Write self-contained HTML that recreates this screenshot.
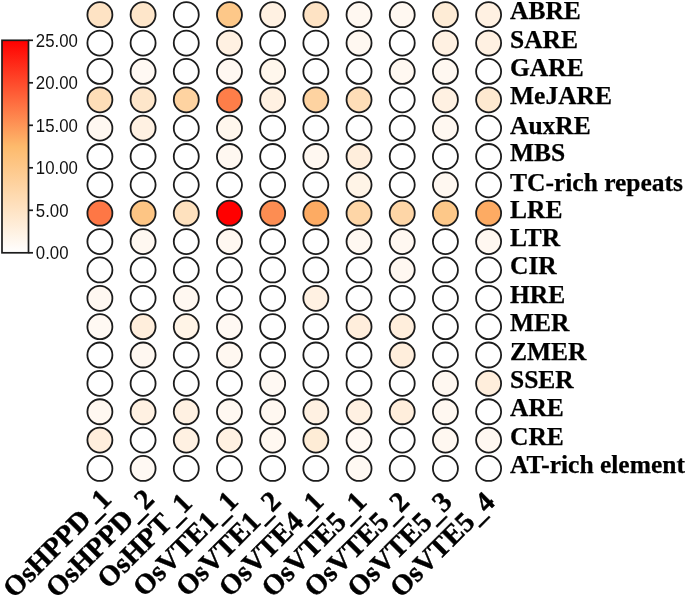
<!DOCTYPE html>
<html><head><meta charset="utf-8"><style>
html,body{margin:0;padding:0;background:#fff;}
body{width:685px;height:595px;overflow:hidden;}
svg{display:block;will-change:transform;}
</style></head><body>
<svg width="685" height="595" viewBox="0 0 685 595">
<defs><linearGradient id="g" x1="0" y1="0" x2="0" y2="1"><stop offset="0.0000" stop-color="#ff0000"/><stop offset="0.5000" stop-color="#fdba6c"/><stop offset="1.0000" stop-color="#ffffff"/></linearGradient></defs>
<rect x="2" y="40.3" width="26.5" height="212.5" fill="url(#g)" stroke="#1c1c1c" stroke-width="1.7"/>
<g stroke="#1c1c1c" stroke-width="1.7"><line x1="28.5" x2="33" y1="252.80" y2="252.80"/><line x1="28.5" x2="33" y1="210.30" y2="210.30"/><line x1="28.5" x2="33" y1="167.80" y2="167.80"/><line x1="28.5" x2="33" y1="125.30" y2="125.30"/><line x1="28.5" x2="33" y1="82.80" y2="82.80"/><line x1="28.5" x2="33" y1="40.30" y2="40.30"/></g>
<g font-family="'Liberation Sans', sans-serif" font-size="16.8" fill="#111" transform="scale(1,1.05)"><text x="35.8" y="246.86">0.00</text><text x="35.8" y="206.38">5.00</text><text x="35.8" y="165.90">10.00</text><text x="35.8" y="125.43">15.00</text><text x="35.8" y="84.95">20.00</text><text x="35.8" y="44.48">25.00</text></g>
<g stroke="#1c1c1c" stroke-width="1.8">
<circle cx="99.90" cy="14.70" r="12.5" fill="#fee3c4"/>
<circle cx="143.09" cy="14.70" r="12.5" fill="#fee6ca"/>
<circle cx="186.28" cy="14.70" r="12.5" fill="#ffffff"/>
<circle cx="229.47" cy="14.70" r="12.5" fill="#fdc889"/>
<circle cx="272.66" cy="14.70" r="12.5" fill="#fff1e2"/>
<circle cx="315.85" cy="14.70" r="12.5" fill="#fee3c4"/>
<circle cx="359.04" cy="14.70" r="12.5" fill="#fff8f1"/>
<circle cx="402.23" cy="14.70" r="12.5" fill="#fff8f1"/>
<circle cx="445.42" cy="14.70" r="12.5" fill="#feecd6"/>
<circle cx="488.61" cy="14.70" r="12.5" fill="#fff1e2"/>
<circle cx="99.90" cy="43.06" r="12.5" fill="#ffffff"/>
<circle cx="143.09" cy="43.06" r="12.5" fill="#ffffff"/>
<circle cx="186.28" cy="43.06" r="12.5" fill="#ffffff"/>
<circle cx="229.47" cy="43.06" r="12.5" fill="#fff1e2"/>
<circle cx="272.66" cy="43.06" r="12.5" fill="#ffffff"/>
<circle cx="315.85" cy="43.06" r="12.5" fill="#ffffff"/>
<circle cx="359.04" cy="43.06" r="12.5" fill="#fff8f1"/>
<circle cx="402.23" cy="43.06" r="12.5" fill="#ffffff"/>
<circle cx="445.42" cy="43.06" r="12.5" fill="#fff1e2"/>
<circle cx="488.61" cy="43.06" r="12.5" fill="#fff1e2"/>
<circle cx="99.90" cy="71.42" r="12.5" fill="#ffffff"/>
<circle cx="143.09" cy="71.42" r="12.5" fill="#fff9f3"/>
<circle cx="186.28" cy="71.42" r="12.5" fill="#ffffff"/>
<circle cx="229.47" cy="71.42" r="12.5" fill="#fff8f1"/>
<circle cx="272.66" cy="71.42" r="12.5" fill="#fff7ed"/>
<circle cx="315.85" cy="71.42" r="12.5" fill="#ffffff"/>
<circle cx="359.04" cy="71.42" r="12.5" fill="#ffffff"/>
<circle cx="402.23" cy="71.42" r="12.5" fill="#fff8f1"/>
<circle cx="445.42" cy="71.42" r="12.5" fill="#fff8f1"/>
<circle cx="488.61" cy="71.42" r="12.5" fill="#ffffff"/>
<circle cx="99.90" cy="99.78" r="12.5" fill="#fedeb8"/>
<circle cx="143.09" cy="99.78" r="12.5" fill="#fee6ca"/>
<circle cx="186.28" cy="99.78" r="12.5" fill="#fed3a1"/>
<circle cx="229.47" cy="99.78" r="12.5" fill="#fe7e49"/>
<circle cx="272.66" cy="99.78" r="12.5" fill="#fff1e2"/>
<circle cx="315.85" cy="99.78" r="12.5" fill="#fed3a1"/>
<circle cx="359.04" cy="99.78" r="12.5" fill="#fedeb8"/>
<circle cx="402.23" cy="99.78" r="12.5" fill="#ffffff"/>
<circle cx="445.42" cy="99.78" r="12.5" fill="#fff1e2"/>
<circle cx="488.61" cy="99.78" r="12.5" fill="#fee9d0"/>
<circle cx="99.90" cy="128.14" r="12.5" fill="#fff8f1"/>
<circle cx="143.09" cy="128.14" r="12.5" fill="#fff1e2"/>
<circle cx="186.28" cy="128.14" r="12.5" fill="#ffffff"/>
<circle cx="229.47" cy="128.14" r="12.5" fill="#fff7ed"/>
<circle cx="272.66" cy="128.14" r="12.5" fill="#ffffff"/>
<circle cx="315.85" cy="128.14" r="12.5" fill="#ffffff"/>
<circle cx="359.04" cy="128.14" r="12.5" fill="#ffffff"/>
<circle cx="402.23" cy="128.14" r="12.5" fill="#ffffff"/>
<circle cx="445.42" cy="128.14" r="12.5" fill="#fff8f1"/>
<circle cx="488.61" cy="128.14" r="12.5" fill="#ffffff"/>
<circle cx="99.90" cy="156.50" r="12.5" fill="#ffffff"/>
<circle cx="143.09" cy="156.50" r="12.5" fill="#ffffff"/>
<circle cx="186.28" cy="156.50" r="12.5" fill="#ffffff"/>
<circle cx="229.47" cy="156.50" r="12.5" fill="#fff8f1"/>
<circle cx="272.66" cy="156.50" r="12.5" fill="#ffffff"/>
<circle cx="315.85" cy="156.50" r="12.5" fill="#fff8f1"/>
<circle cx="359.04" cy="156.50" r="12.5" fill="#ffeedc"/>
<circle cx="402.23" cy="156.50" r="12.5" fill="#ffffff"/>
<circle cx="445.42" cy="156.50" r="12.5" fill="#ffffff"/>
<circle cx="488.61" cy="156.50" r="12.5" fill="#ffffff"/>
<circle cx="99.90" cy="184.86" r="12.5" fill="#ffffff"/>
<circle cx="143.09" cy="184.86" r="12.5" fill="#ffffff"/>
<circle cx="186.28" cy="184.86" r="12.5" fill="#ffffff"/>
<circle cx="229.47" cy="184.86" r="12.5" fill="#ffffff"/>
<circle cx="272.66" cy="184.86" r="12.5" fill="#ffffff"/>
<circle cx="315.85" cy="184.86" r="12.5" fill="#ffffff"/>
<circle cx="359.04" cy="184.86" r="12.5" fill="#fff4e7"/>
<circle cx="402.23" cy="184.86" r="12.5" fill="#ffffff"/>
<circle cx="445.42" cy="184.86" r="12.5" fill="#fff8f1"/>
<circle cx="488.61" cy="184.86" r="12.5" fill="#ffffff"/>
<circle cx="99.90" cy="213.22" r="12.5" fill="#fe7745"/>
<circle cx="143.09" cy="213.22" r="12.5" fill="#fdc584"/>
<circle cx="186.28" cy="213.22" r="12.5" fill="#fee1be"/>
<circle cx="229.47" cy="213.22" r="12.5" fill="#ff0000"/>
<circle cx="272.66" cy="213.22" r="12.5" fill="#fd8d52"/>
<circle cx="315.85" cy="213.22" r="12.5" fill="#fdab63"/>
<circle cx="359.04" cy="213.22" r="12.5" fill="#fed6a7"/>
<circle cx="402.23" cy="213.22" r="12.5" fill="#fed6a7"/>
<circle cx="445.42" cy="213.22" r="12.5" fill="#fdc889"/>
<circle cx="488.61" cy="213.22" r="12.5" fill="#fdab63"/>
<circle cx="99.90" cy="241.58" r="12.5" fill="#ffffff"/>
<circle cx="143.09" cy="241.58" r="12.5" fill="#fff8f1"/>
<circle cx="186.28" cy="241.58" r="12.5" fill="#ffffff"/>
<circle cx="229.47" cy="241.58" r="12.5" fill="#fff8f1"/>
<circle cx="272.66" cy="241.58" r="12.5" fill="#ffffff"/>
<circle cx="315.85" cy="241.58" r="12.5" fill="#ffffff"/>
<circle cx="359.04" cy="241.58" r="12.5" fill="#fff8f1"/>
<circle cx="402.23" cy="241.58" r="12.5" fill="#fff8f1"/>
<circle cx="445.42" cy="241.58" r="12.5" fill="#ffffff"/>
<circle cx="488.61" cy="241.58" r="12.5" fill="#fff8f1"/>
<circle cx="99.90" cy="269.94" r="12.5" fill="#ffffff"/>
<circle cx="143.09" cy="269.94" r="12.5" fill="#ffffff"/>
<circle cx="186.28" cy="269.94" r="12.5" fill="#ffffff"/>
<circle cx="229.47" cy="269.94" r="12.5" fill="#ffffff"/>
<circle cx="272.66" cy="269.94" r="12.5" fill="#ffffff"/>
<circle cx="315.85" cy="269.94" r="12.5" fill="#ffffff"/>
<circle cx="359.04" cy="269.94" r="12.5" fill="#ffffff"/>
<circle cx="402.23" cy="269.94" r="12.5" fill="#fff8f1"/>
<circle cx="445.42" cy="269.94" r="12.5" fill="#ffffff"/>
<circle cx="488.61" cy="269.94" r="12.5" fill="#ffffff"/>
<circle cx="99.90" cy="298.30" r="12.5" fill="#fff8f1"/>
<circle cx="143.09" cy="298.30" r="12.5" fill="#ffffff"/>
<circle cx="186.28" cy="298.30" r="12.5" fill="#fff8f1"/>
<circle cx="229.47" cy="298.30" r="12.5" fill="#ffffff"/>
<circle cx="272.66" cy="298.30" r="12.5" fill="#ffffff"/>
<circle cx="315.85" cy="298.30" r="12.5" fill="#fff1e2"/>
<circle cx="359.04" cy="298.30" r="12.5" fill="#ffffff"/>
<circle cx="402.23" cy="298.30" r="12.5" fill="#ffffff"/>
<circle cx="445.42" cy="298.30" r="12.5" fill="#ffffff"/>
<circle cx="488.61" cy="298.30" r="12.5" fill="#ffffff"/>
<circle cx="99.90" cy="326.66" r="12.5" fill="#fff9f3"/>
<circle cx="143.09" cy="326.66" r="12.5" fill="#ffeedc"/>
<circle cx="186.28" cy="326.66" r="12.5" fill="#fff4e7"/>
<circle cx="229.47" cy="326.66" r="12.5" fill="#fff9f3"/>
<circle cx="272.66" cy="326.66" r="12.5" fill="#ffffff"/>
<circle cx="315.85" cy="326.66" r="12.5" fill="#ffffff"/>
<circle cx="359.04" cy="326.66" r="12.5" fill="#ffeedc"/>
<circle cx="402.23" cy="326.66" r="12.5" fill="#ffeedc"/>
<circle cx="445.42" cy="326.66" r="12.5" fill="#ffffff"/>
<circle cx="488.61" cy="326.66" r="12.5" fill="#ffffff"/>
<circle cx="99.90" cy="355.02" r="12.5" fill="#ffffff"/>
<circle cx="143.09" cy="355.02" r="12.5" fill="#fff8f1"/>
<circle cx="186.28" cy="355.02" r="12.5" fill="#ffffff"/>
<circle cx="229.47" cy="355.02" r="12.5" fill="#fff8f1"/>
<circle cx="272.66" cy="355.02" r="12.5" fill="#ffffff"/>
<circle cx="315.85" cy="355.02" r="12.5" fill="#ffffff"/>
<circle cx="359.04" cy="355.02" r="12.5" fill="#ffffff"/>
<circle cx="402.23" cy="355.02" r="12.5" fill="#ffeedc"/>
<circle cx="445.42" cy="355.02" r="12.5" fill="#ffffff"/>
<circle cx="488.61" cy="355.02" r="12.5" fill="#ffffff"/>
<circle cx="99.90" cy="383.38" r="12.5" fill="#ffffff"/>
<circle cx="143.09" cy="383.38" r="12.5" fill="#ffffff"/>
<circle cx="186.28" cy="383.38" r="12.5" fill="#ffffff"/>
<circle cx="229.47" cy="383.38" r="12.5" fill="#ffffff"/>
<circle cx="272.66" cy="383.38" r="12.5" fill="#fff9f3"/>
<circle cx="315.85" cy="383.38" r="12.5" fill="#ffffff"/>
<circle cx="359.04" cy="383.38" r="12.5" fill="#ffffff"/>
<circle cx="402.23" cy="383.38" r="12.5" fill="#ffffff"/>
<circle cx="445.42" cy="383.38" r="12.5" fill="#fff8f1"/>
<circle cx="488.61" cy="383.38" r="12.5" fill="#ffeedc"/>
<circle cx="99.90" cy="411.74" r="12.5" fill="#fff8f1"/>
<circle cx="143.09" cy="411.74" r="12.5" fill="#fff1e2"/>
<circle cx="186.28" cy="411.74" r="12.5" fill="#fff1e2"/>
<circle cx="229.47" cy="411.74" r="12.5" fill="#fff8f1"/>
<circle cx="272.66" cy="411.74" r="12.5" fill="#fff8f1"/>
<circle cx="315.85" cy="411.74" r="12.5" fill="#fff1e2"/>
<circle cx="359.04" cy="411.74" r="12.5" fill="#fff1e2"/>
<circle cx="402.23" cy="411.74" r="12.5" fill="#ffeedc"/>
<circle cx="445.42" cy="411.74" r="12.5" fill="#fff8f1"/>
<circle cx="488.61" cy="411.74" r="12.5" fill="#ffffff"/>
<circle cx="99.90" cy="440.10" r="12.5" fill="#ffeedc"/>
<circle cx="143.09" cy="440.10" r="12.5" fill="#ffffff"/>
<circle cx="186.28" cy="440.10" r="12.5" fill="#fff1e2"/>
<circle cx="229.47" cy="440.10" r="12.5" fill="#fff1e2"/>
<circle cx="272.66" cy="440.10" r="12.5" fill="#fff8f1"/>
<circle cx="315.85" cy="440.10" r="12.5" fill="#feecd6"/>
<circle cx="359.04" cy="440.10" r="12.5" fill="#fff9f3"/>
<circle cx="402.23" cy="440.10" r="12.5" fill="#ffffff"/>
<circle cx="445.42" cy="440.10" r="12.5" fill="#fff8f1"/>
<circle cx="488.61" cy="440.10" r="12.5" fill="#fff8f1"/>
<circle cx="99.90" cy="468.46" r="12.5" fill="#ffffff"/>
<circle cx="143.09" cy="468.46" r="12.5" fill="#fff9f3"/>
<circle cx="186.28" cy="468.46" r="12.5" fill="#ffffff"/>
<circle cx="229.47" cy="468.46" r="12.5" fill="#ffffff"/>
<circle cx="272.66" cy="468.46" r="12.5" fill="#ffffff"/>
<circle cx="315.85" cy="468.46" r="12.5" fill="#ffffff"/>
<circle cx="359.04" cy="468.46" r="12.5" fill="#fff9f3"/>
<circle cx="402.23" cy="468.46" r="12.5" fill="#ffffff"/>
<circle cx="445.42" cy="468.46" r="12.5" fill="#ffffff"/>
<circle cx="488.61" cy="468.46" r="12.5" fill="#ffffff"/>
</g>
<g font-family="'Liberation Serif', serif" font-weight="bold" font-size="25.5" fill="#000" stroke="#000" stroke-width="0.25">
<text x="510" y="19.20">ABRE</text>
<text x="510" y="47.56">SARE</text>
<text x="510" y="75.92">GARE</text>
<text x="510" y="104.28">MeJARE</text>
<text x="510" y="134.14">AuxRE</text>
<text x="510" y="161.00">MBS</text>
<text x="510" y="190.96">TC-rich repeats</text>
<text x="510" y="217.72">LRE</text>
<text x="510" y="246.08">LTR</text>
<text x="510" y="274.44">CIR</text>
<text x="510" y="302.80">HRE</text>
<text x="510" y="331.16">MER</text>
<text x="510" y="359.52">ZMER</text>
<text x="510" y="387.88">SSER</text>
<text x="510" y="416.24">ARE</text>
<text x="510" y="444.60">CRE</text>
<text x="510" y="472.96">AT-rich element</text>
</g>
<g font-family="'Liberation Serif', serif" font-weight="bold" font-size="28.5" fill="#000" stroke="#000" stroke-width="0.4">
<text transform="translate(57.10,543.6) rotate(-45)" text-anchor="middle" x="0" y="9.0">OsHPPD<tspan dy="1.3">_</tspan><tspan dy="-1.3">1</tspan></text>
<text transform="translate(99.92,543.74) rotate(-45)" text-anchor="middle" x="0" y="9.0">OsHPPD<tspan dy="1.3">_</tspan><tspan dy="-1.3">2</tspan></text>
<text transform="translate(142.74,543.88) rotate(-45)" text-anchor="middle" x="3.5" y="8.3">OsHPT<tspan dy="1.3">_</tspan><tspan dy="-1.3">1</tspan></text>
<text transform="translate(185.56,544.02) rotate(-45)" text-anchor="middle" x="0" y="9.0">OsVTE1<tspan dy="1.3">_</tspan><tspan dy="-1.3">1</tspan></text>
<text transform="translate(228.38,544.16) rotate(-45)" text-anchor="middle" x="0" y="9.0">OsVTE1<tspan dy="1.3">_</tspan><tspan dy="-1.3">2</tspan></text>
<text transform="translate(271.20,544.3000000000001) rotate(-45)" text-anchor="middle" x="0" y="9.0">OsVTE4<tspan dy="1.3">_</tspan><tspan dy="-1.3">1</tspan></text>
<text transform="translate(314.02,544.44) rotate(-45)" text-anchor="middle" x="0" y="9.0">OsVTE5<tspan dy="1.3">_</tspan><tspan dy="-1.3">1</tspan></text>
<text transform="translate(356.84,544.58) rotate(-45)" text-anchor="middle" x="0" y="9.0">OsVTE5<tspan dy="1.3">_</tspan><tspan dy="-1.3">2</tspan></text>
<text transform="translate(399.66,544.72) rotate(-45)" text-anchor="middle" x="0" y="9.0">OsVTE5<tspan dy="1.3">_</tspan><tspan dy="-1.3">3</tspan></text>
<text transform="translate(442.48,544.86) rotate(-45)" text-anchor="middle" x="0" y="9.0">OsVTE5<tspan dy="1.3">_</tspan><tspan dy="-1.3">4</tspan></text>
</g>
</svg>
</body></html>
